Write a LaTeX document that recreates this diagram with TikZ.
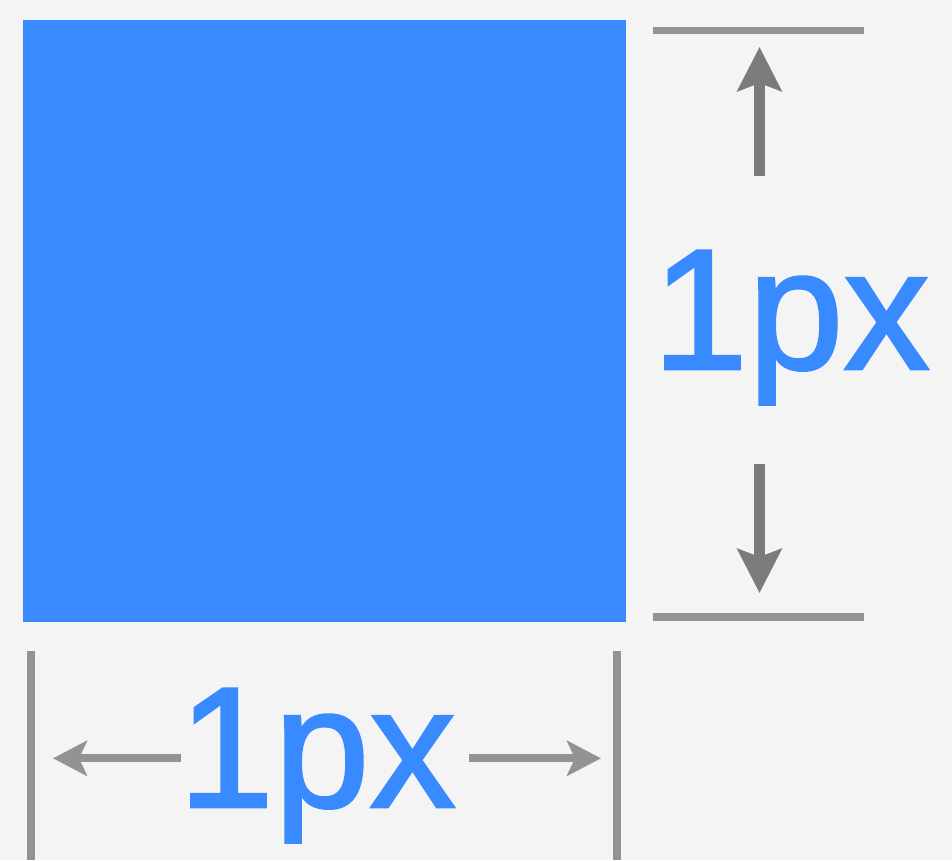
\documentclass[tikz,border=0pt]{standalone}
\usepackage{fontspec}
\setmainfont{Liberation Sans}
\newfontfamily\pxfont[FakeBold=1.5]{Liberation Sans}
\usetikzlibrary{arrows.meta}
\definecolor{bg}{HTML}{F4F4F4}
\definecolor{pxblue}{HTML}{3A8AFF}
\definecolor{linegray}{HTML}{939393}
\definecolor{darkgray}{HTML}{7B7B7B}
\tikzset{
  guide/.style={draw=linegray, line width=7.5pt},
  varrow/.style={draw=darkgray, line width=11pt, -{Stealth[length=44pt,width=44pt,inset=8pt]}},
  harrow/.style={draw=linegray, line width=8pt, -{Stealth[length=34pt,width=35pt,inset=8pt]}},
  pxlabel/.style={text=pxblue, inner sep=0pt, anchor=base, font=\pxfont\fontsize{172}{172}\selectfont}
}
\begin{document}
\begin{tikzpicture}[x=1pt,y=-1pt]
\useasboundingbox (0,0) rectangle (952,860);
\fill[bg] (0,0) rectangle (952,860);
% blue square
\fill[pxblue] (23,20) rectangle (626,622);
% right dimension
\coordinate (rtL) at (653,30.5);
\coordinate (rtR) at (864,30.5);
\coordinate (rbL) at (653,617);
\coordinate (rbR) at (864,617);
\draw[guide] (rtL) -- (rtR);
\draw[guide] (rbL) -- (rbR);
\node[pxlabel] (rlabel) at (791,369) {1px};
\coordinate (upS) at (759.5,176);
\coordinate (upT) at (759.5,47);
\coordinate (dnS) at (759.5,464);
\coordinate (dnT) at (759.5,593);
\draw[varrow] (upS) -- (upT);
\draw[varrow] (dnS) -- (dnT);
% bottom dimension
\coordinate (blT) at (31,651);
\coordinate (blB) at (31,860);
\coordinate (brT) at (617,651);
\coordinate (brB) at (617,860);
\draw[guide] (blT) -- (blB);
\draw[guide] (brT) -- (brB);
\node[pxlabel] (blabel) at (317,807) {1px};
\coordinate (lS) at (181,758.3);
\coordinate (lT) at (53,758.3);
\coordinate (rS) at (469,758.3);
\coordinate (rT) at (601,758.3);
\draw[harrow] (lS) -- (lT);
\draw[harrow] (rS) -- (rT);
\end{tikzpicture}
\end{document}
